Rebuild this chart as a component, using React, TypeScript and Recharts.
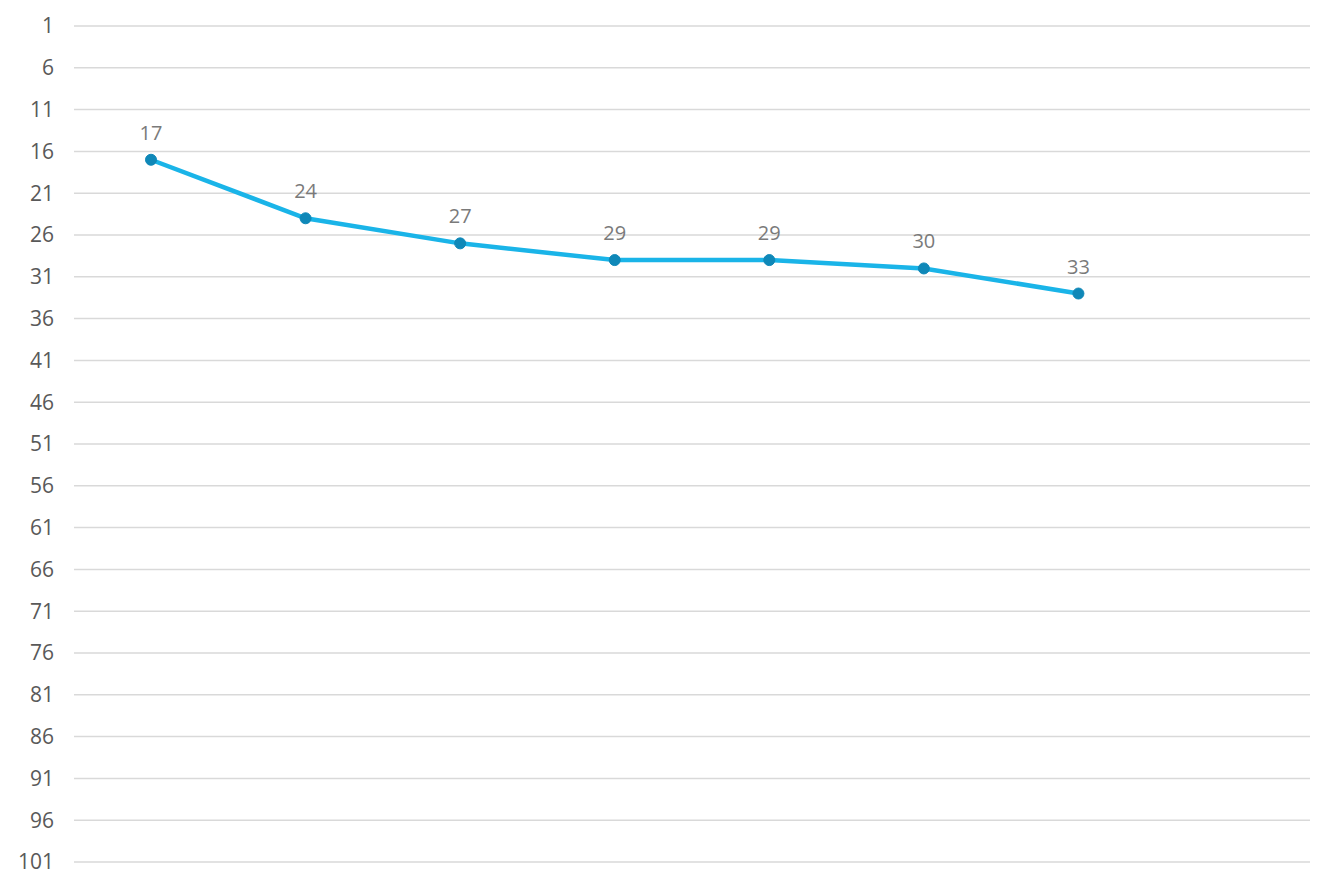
import React from 'react';
import { LineChart, Line, XAxis, YAxis, CartesianGrid, LabelList } from 'recharts';

const categories = ['1', '2', '3', '4', '5', '6', '7', '8'];
const values: (number | null)[] = [17, 24, 27, 29, 29, 30, 33, null];
const yTicks = [1, 6, 11, 16, 21, 26, 31, 36, 41, 46, 51, 56, 61, 66, 71, 76, 81, 86, 91, 96, 101];

const data = categories.map((c, i) => ({ name: c, value: values[i] }));

export default function App() {
  return (
    <div style={{ fontFamily: '"Open Sans", sans-serif' }}>
      <LineChart width={1318} height={881} data={data} margin={{ top: 18, right: 16, bottom: 27, left: 0 }}>
        <CartesianGrid horizontal vertical={false} stroke="#d9d9d9" strokeWidth={1.5} />
        <XAxis dataKey="name" hide padding={{ left: 77, right: 77 }} />
        <YAxis
          reversed
          domain={[1, 101]}
          ticks={yTicks}
          interval={0}
          width={66}
          axisLine={false}
          tickLine={false}
          tickMargin={14}
          tick={{ fill: '#595959', fontSize: 21, fontFamily: '"Open Sans", sans-serif' }}
        />
        <Line
          type="linear"
          dataKey="value"
          stroke="#1ab4e8"
          strokeWidth={4.5}
          dot={{ r: 5.5, fill: '#0f88b8', stroke: '#0f88b8', strokeWidth: 1 }}
          activeDot={false}
          isAnimationActive={false}
        >
          <LabelList dataKey="value" position="top" offset={20} fill="#7a7a7a" fontSize={20} fontFamily='"Open Sans", sans-serif' />
        </Line>
      </LineChart>
    </div>
  );
}
